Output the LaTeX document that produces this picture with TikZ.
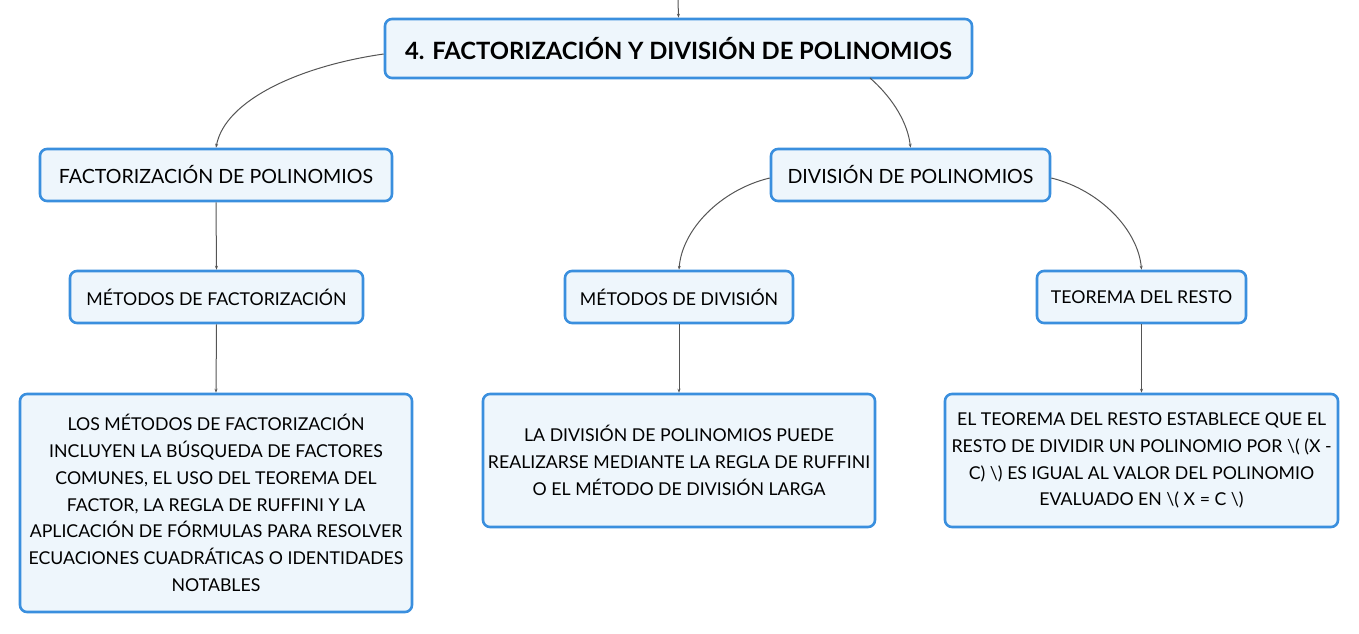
\documentclass[tikz,border=0pt]{standalone}
\usepackage{fontspec}
\setmainfont{Lato}
\usetikzlibrary{arrows.meta}
\definecolor{bordc}{HTML}{3A8FDE}
\definecolor{fillc}{HTML}{EEF6FC}
\definecolor{linec}{HTML}{555555}
\tikzset{
  box/.style={draw=bordc, fill=fillc, line width=2.6pt, rounded corners=7pt, inner sep=0pt, align=center, font=\fontsize{17.7}{26.8}\selectfont},
  conn/.style={draw=linec, line width=1pt, -{Stealth[length=4pt,width=3pt]}},
}
\begin{document}
\begin{tikzpicture}[x=1pt,y=-1pt]
\useasboundingbox (0,0) rectangle (1359,634);
\node[box, minimum width=587pt, minimum height=59pt, font=\fontsize{23.8}{28}\selectfont\bfseries] (title) at (678.5,48.5) {4. FACTORIZACIÓN Y DIVISIÓN DE POLINOMIOS};
\coordinate (top) at (678,0);
\node[box, minimum width=352pt, minimum height=52pt, font=\fontsize{19.6}{24}\selectfont] (fact) at (216,175) {FACTORIZACIÓN DE POLINOMIOS};
\node[box, minimum width=279pt, minimum height=52pt, font=\fontsize{19.6}{24}\selectfont] (div) at (910.5,175) {DIVISIÓN DE POLINOMIOS};
\node[box, minimum width=293pt, minimum height=52pt] (mfact) at (216.5,297) {MÉTODOS DE FACTORIZACIÓN};
\node[box, minimum width=228pt, minimum height=52pt] (mdiv) at (679,297) {MÉTODOS DE DIVISIÓN};
\node[box, minimum width=209pt, minimum height=52pt] (teo) at (1141.5,297) {TEOREMA DEL RESTO};
\node[box, minimum width=392pt, minimum height=218pt] (tfact) at (216,503) {LOS MÉTODOS DE FACTORIZACIÓN\\INCLUYEN LA BÚSQUEDA DE FACTORES\\COMUNES, EL USO DEL TEOREMA DEL\\FACTOR, LA REGLA DE RUFFINI Y LA\\APLICACIÓN DE FÓRMULAS PARA RESOLVER\\ECUACIONES CUADRÁTICAS O IDENTIDADES\\NOTABLES};
\node[box, minimum width=392pt, minimum height=133pt] (tdiv) at (679,460.5) {LA DIVISIÓN DE POLINOMIOS PUEDE\\REALIZARSE MEDIANTE LA REGLA DE RUFFINI\\O EL MÉTODO DE DIVISIÓN LARGA};
\node[box, minimum width=393pt, minimum height=133pt] (tteo) at (1141.5,460.5) {EL TEOREMA DEL RESTO ESTABLECE QUE EL\\RESTO DE DIVIDIR UN POLINOMIO POR \textbackslash( (X -\\C) \textbackslash) ES IGUAL AL VALOR DEL POLINOMIO\\EVALUADO EN \textbackslash( X = C \textbackslash)};
\draw[conn] (top) -- (title.north);
\draw[conn] (title.west |- 0,54) .. controls (300,66) and (225,100) .. (fact.north);
\draw[conn] (870,78) .. controls (895,100) and (908,125) .. (div.north);
\draw[conn] (div.west |- 0,178) .. controls (720,190) and (682,230) .. (mdiv.north);
\draw[conn] (div.east |- 0,178) .. controls (1100,190) and (1138,230) .. (teo.north);
\draw[conn] (fact.south) -- (mfact.north);
\draw[conn] (mfact.south) -- (tfact.north);
\draw[conn] (mdiv.south) -- (tdiv.north);
\draw[conn] (teo.south) -- (tteo.north);
\end{tikzpicture}
\end{document}
